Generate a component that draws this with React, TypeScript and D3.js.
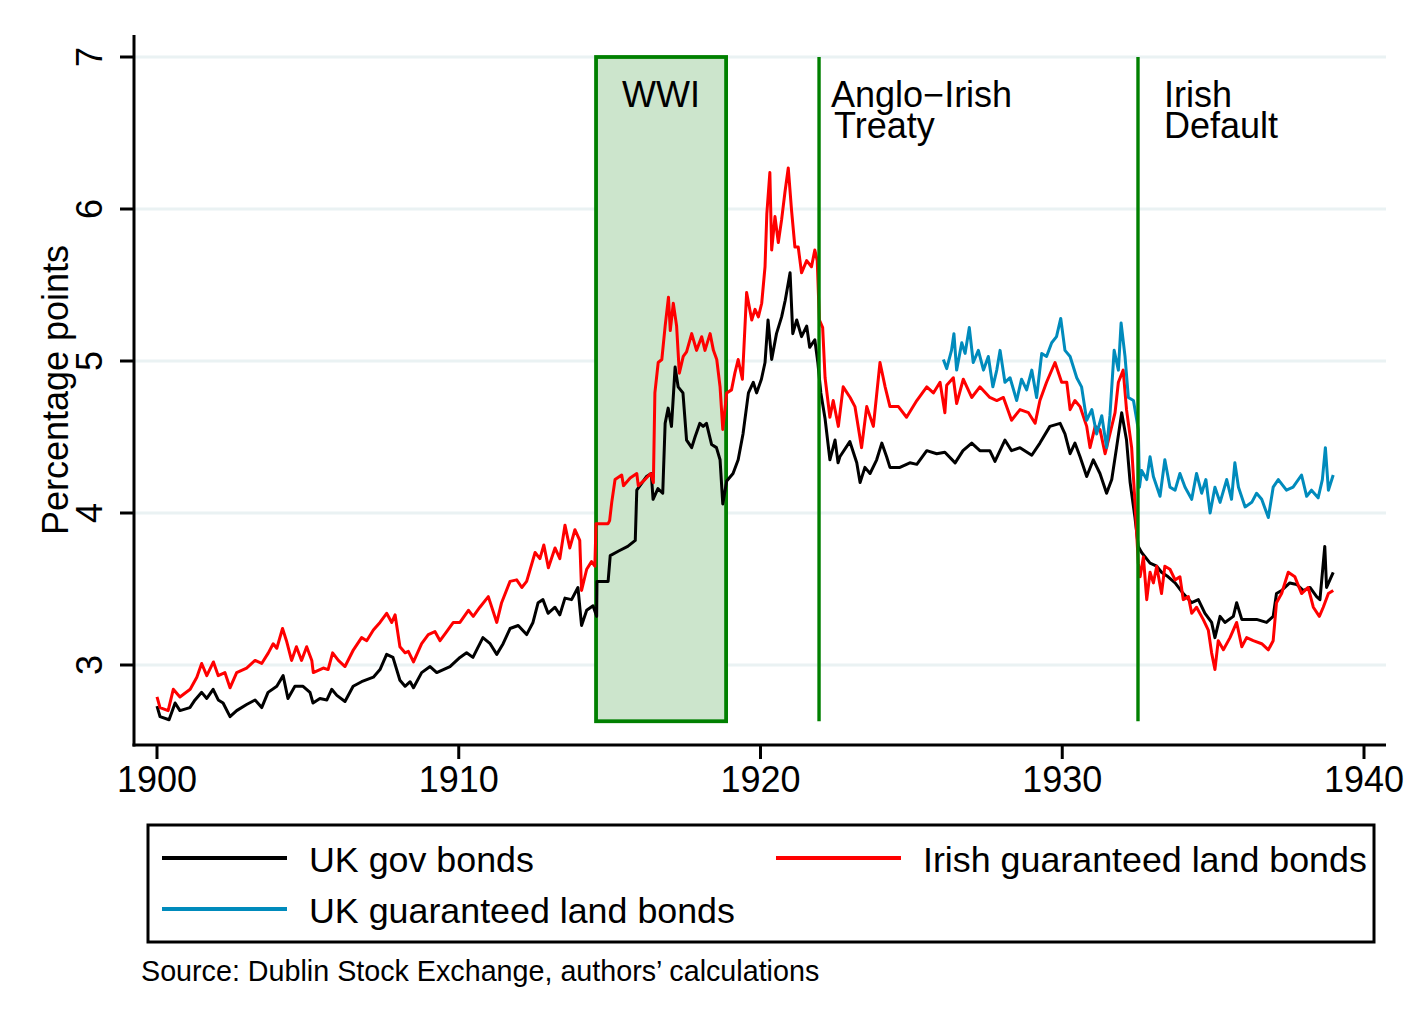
import React from 'react';
import * as d3 from 'd3';

// values: [year, percentage points]
const ukGov: [number, number][] = [
  [1900.0, 2.73], [1900.1, 2.66], [1900.4, 2.64], [1900.6, 2.75], [1900.76, 2.7], [1901.09, 2.72],
  [1901.26, 2.77], [1901.48, 2.82], [1901.65, 2.78], [1901.86, 2.84], [1902.03, 2.77], [1902.19, 2.75],
  [1902.42, 2.66], [1902.64, 2.7], [1902.97, 2.74], [1903.25, 2.77], [1903.47, 2.72], [1903.68, 2.82],
  [1903.97, 2.86], [1904.18, 2.93], [1904.34, 2.78], [1904.57, 2.86], [1904.84, 2.86], [1905.07, 2.82],
  [1905.17, 2.75], [1905.4, 2.78], [1905.63, 2.77], [1905.79, 2.84], [1905.96, 2.8], [1906.23, 2.76],
  [1906.5, 2.86], [1906.78, 2.89], [1907.17, 2.92], [1907.39, 2.97], [1907.61, 3.07], [1907.82, 3.05],
  [1908.05, 2.9], [1908.22, 2.86], [1908.39, 2.89], [1908.5, 2.85], [1908.77, 2.95], [1909.05, 2.99],
  [1909.27, 2.95], [1909.71, 2.99], [1910.04, 3.05], [1910.26, 3.08], [1910.47, 3.05], [1910.8, 3.18],
  [1911.04, 3.14], [1911.26, 3.07], [1911.47, 3.14], [1911.7, 3.24], [1911.97, 3.26], [1912.25, 3.2],
  [1912.46, 3.28], [1912.63, 3.41], [1912.79, 3.43], [1912.96, 3.34], [1913.19, 3.38], [1913.35, 3.33],
  [1913.52, 3.44], [1913.74, 3.43], [1913.95, 3.51], [1914.07, 3.26], [1914.24, 3.36], [1914.45, 3.39],
  [1914.57, 3.32], [1914.58, 3.55], [1914.95, 3.55], [1915.02, 3.72], [1915.3, 3.75], [1915.6, 3.78],
  [1915.85, 3.82], [1915.9, 4.15], [1916.22, 4.24], [1916.38, 4.26], [1916.44, 4.09], [1916.6, 4.16],
  [1916.76, 4.13], [1916.84, 4.59], [1916.94, 4.69], [1917.05, 4.57], [1917.17, 4.96], [1917.27, 4.83],
  [1917.43, 4.79], [1917.55, 4.48], [1917.72, 4.43], [1917.83, 4.5], [1917.99, 4.59], [1918.1, 4.57],
  [1918.21, 4.59], [1918.38, 4.45], [1918.54, 4.43], [1918.66, 4.35], [1918.75, 4.06], [1918.88, 4.21],
  [1919.09, 4.26], [1919.26, 4.35], [1919.42, 4.52], [1919.6, 4.79], [1919.76, 4.86], [1919.87, 4.79],
  [1920.03, 4.88], [1920.15, 4.99], [1920.25, 5.27], [1920.37, 5.01], [1920.53, 5.18], [1920.7, 5.29],
  [1920.82, 5.4], [1920.98, 5.58], [1921.07, 5.18], [1921.2, 5.27], [1921.36, 5.16], [1921.53, 5.23],
  [1921.63, 5.09], [1921.8, 5.14], [1921.9, 4.99], [1922.0, 4.79], [1922.14, 4.62], [1922.3, 4.35],
  [1922.47, 4.48], [1922.57, 4.33], [1922.63, 4.37], [1922.96, 4.47], [1923.19, 4.33], [1923.3, 4.2],
  [1923.46, 4.3], [1923.63, 4.26], [1923.85, 4.35], [1924.02, 4.46], [1924.18, 4.37], [1924.29, 4.3],
  [1924.62, 4.3], [1924.95, 4.33], [1925.18, 4.32], [1925.51, 4.41], [1925.84, 4.39], [1926.11, 4.4],
  [1926.45, 4.33], [1926.71, 4.41], [1927.0, 4.46], [1927.27, 4.41], [1927.6, 4.41], [1927.77, 4.34],
  [1928.1, 4.48], [1928.32, 4.41], [1928.6, 4.43], [1928.99, 4.38], [1929.26, 4.46], [1929.59, 4.57],
  [1929.93, 4.59], [1930.09, 4.52], [1930.26, 4.39], [1930.42, 4.46], [1930.59, 4.37], [1930.81, 4.24],
  [1931.03, 4.35], [1931.25, 4.26], [1931.47, 4.13], [1931.64, 4.22], [1931.8, 4.43], [1931.97, 4.66],
  [1932.13, 4.48], [1932.25, 4.2], [1932.41, 3.97], [1932.52, 3.78], [1932.63, 3.74], [1932.91, 3.67],
  [1933.13, 3.65], [1933.29, 3.61], [1933.51, 3.58], [1933.74, 3.54], [1934.01, 3.47], [1934.29, 3.41],
  [1934.51, 3.43], [1934.73, 3.34], [1934.95, 3.28], [1935.06, 3.18], [1935.23, 3.32], [1935.39, 3.28],
  [1935.67, 3.32], [1935.78, 3.41], [1935.95, 3.3], [1936.22, 3.3], [1936.44, 3.3], [1936.77, 3.28],
  [1936.99, 3.32], [1937.1, 3.47], [1937.27, 3.49], [1937.54, 3.54], [1937.77, 3.53], [1937.99, 3.49],
  [1938.21, 3.51], [1938.43, 3.45], [1938.54, 3.43], [1938.7, 3.78], [1938.76, 3.51], [1938.87, 3.56],
  [1938.98, 3.61],
];

const irishLand: [number, number][] = [
  [1900.0, 2.79], [1900.1, 2.72], [1900.37, 2.7], [1900.54, 2.84], [1900.76, 2.79], [1901.1, 2.84],
  [1901.32, 2.92], [1901.48, 3.01], [1901.65, 2.93], [1901.87, 3.02], [1902.03, 2.93], [1902.25, 2.95],
  [1902.42, 2.85], [1902.64, 2.95], [1902.97, 2.98], [1903.25, 3.03], [1903.47, 3.01], [1903.69, 3.08],
  [1903.85, 3.14], [1903.97, 3.11], [1904.16, 3.24], [1904.29, 3.16], [1904.46, 3.03], [1904.62, 3.12],
  [1904.79, 3.03], [1904.96, 3.12], [1905.13, 3.03], [1905.18, 2.95], [1905.51, 2.98], [1905.67, 2.97],
  [1905.82, 3.08], [1906.01, 3.03], [1906.23, 2.99], [1906.51, 3.1], [1906.78, 3.18], [1906.95, 3.16],
  [1907.17, 3.23], [1907.39, 3.28], [1907.61, 3.34], [1907.78, 3.28], [1907.89, 3.33], [1908.05, 3.12],
  [1908.22, 3.08], [1908.33, 3.09], [1908.5, 3.02], [1908.77, 3.14], [1908.99, 3.2], [1909.21, 3.22],
  [1909.38, 3.16], [1909.6, 3.22], [1909.82, 3.28], [1910.04, 3.28], [1910.32, 3.36], [1910.48, 3.32],
  [1910.7, 3.38], [1910.98, 3.45], [1911.26, 3.28], [1911.42, 3.41], [1911.7, 3.55], [1911.92, 3.56],
  [1912.09, 3.51], [1912.25, 3.55], [1912.53, 3.74], [1912.69, 3.7], [1912.82, 3.79], [1912.97, 3.64],
  [1913.19, 3.77], [1913.35, 3.7], [1913.52, 3.92], [1913.68, 3.77], [1913.85, 3.89], [1914.01, 3.82],
  [1914.07, 3.49], [1914.24, 3.63], [1914.4, 3.68], [1914.51, 3.65], [1914.55, 3.93], [1914.95, 3.93],
  [1915.0, 3.95], [1915.07, 4.07], [1915.18, 4.22], [1915.4, 4.25], [1915.46, 4.18], [1915.68, 4.23],
  [1915.9, 4.26], [1915.95, 4.18], [1916.17, 4.22], [1916.36, 4.26], [1916.45, 4.2], [1916.5, 4.79],
  [1916.61, 4.99], [1916.73, 5.01], [1916.84, 5.23], [1916.95, 5.42], [1917.01, 5.2], [1917.11, 5.38],
  [1917.22, 5.23], [1917.31, 4.92], [1917.44, 5.03], [1917.55, 5.06], [1917.72, 5.18], [1917.88, 5.07],
  [1918.05, 5.16], [1918.16, 5.07], [1918.33, 5.18], [1918.44, 5.07], [1918.55, 5.01], [1918.66, 4.83],
  [1918.75, 4.55], [1918.88, 4.79], [1919.04, 4.81], [1919.15, 4.92], [1919.26, 5.01], [1919.4, 4.88],
  [1919.54, 5.45], [1919.71, 5.27], [1919.82, 5.34], [1919.93, 5.29], [1920.04, 5.38], [1920.15, 5.62],
  [1920.21, 5.97], [1920.31, 6.24], [1920.37, 5.73], [1920.48, 5.95], [1920.59, 5.78], [1920.7, 5.93],
  [1920.81, 6.11], [1920.92, 6.27], [1921.03, 5.99], [1921.14, 5.75], [1921.25, 5.75], [1921.36, 5.58],
  [1921.53, 5.66], [1921.69, 5.62], [1921.8, 5.73], [1921.88, 5.66], [1921.95, 5.27], [1922.06, 5.22],
  [1922.14, 4.89], [1922.3, 4.63], [1922.41, 4.74], [1922.58, 4.57], [1922.74, 4.83], [1922.97, 4.76],
  [1923.13, 4.7], [1923.35, 4.43], [1923.52, 4.7], [1923.74, 4.57], [1923.96, 4.99], [1924.13, 4.83],
  [1924.29, 4.7], [1924.57, 4.7], [1924.84, 4.63], [1925.18, 4.74], [1925.51, 4.83], [1925.73, 4.79],
  [1925.95, 4.86], [1926.11, 4.66], [1926.17, 4.84], [1926.39, 4.89], [1926.5, 4.72], [1926.72, 4.88],
  [1927.0, 4.76], [1927.27, 4.83], [1927.6, 4.76], [1927.83, 4.74], [1928.05, 4.76], [1928.32, 4.61],
  [1928.6, 4.68], [1928.88, 4.66], [1929.1, 4.59], [1929.26, 4.74], [1929.48, 4.86], [1929.76, 4.99],
  [1929.98, 4.86], [1930.15, 4.86], [1930.26, 4.68], [1930.42, 4.74], [1930.59, 4.7], [1930.81, 4.57],
  [1930.92, 4.43], [1931.09, 4.57], [1931.25, 4.55], [1931.42, 4.39], [1931.58, 4.52], [1931.75, 4.66],
  [1931.86, 4.86], [1932.02, 4.94], [1932.13, 4.68], [1932.3, 4.43], [1932.41, 4.07], [1932.52, 3.67],
  [1932.58, 3.58], [1932.69, 3.71], [1932.8, 3.43], [1932.91, 3.61], [1933.02, 3.54], [1933.13, 3.65],
  [1933.29, 3.47], [1933.4, 3.65], [1933.57, 3.63], [1933.74, 3.56], [1933.9, 3.58], [1934.01, 3.43],
  [1934.18, 3.45], [1934.29, 3.34], [1934.45, 3.38], [1934.67, 3.3], [1934.84, 3.23], [1934.95, 3.08],
  [1935.06, 2.97], [1935.17, 3.16], [1935.34, 3.1], [1935.56, 3.18], [1935.78, 3.28], [1935.95, 3.12],
  [1936.11, 3.18], [1936.33, 3.16], [1936.61, 3.14], [1936.83, 3.1], [1936.99, 3.16], [1937.1, 3.41],
  [1937.27, 3.47], [1937.49, 3.61], [1937.71, 3.58], [1937.93, 3.47], [1938.15, 3.51], [1938.32, 3.38],
  [1938.52, 3.32], [1938.65, 3.38], [1938.82, 3.47], [1938.98, 3.49],
];

const ukLand: [number, number][] = [
  [1926.06, 5.01], [1926.17, 4.95], [1926.33, 5.07], [1926.41, 5.18], [1926.5, 4.94], [1926.67, 5.12],
  [1926.78, 5.05], [1926.92, 5.22], [1927.05, 4.99], [1927.22, 5.07], [1927.39, 4.94], [1927.55, 5.03],
  [1927.7, 4.83], [1927.83, 4.94], [1927.94, 5.07], [1928.1, 4.86], [1928.27, 4.89], [1928.49, 4.74],
  [1928.65, 4.88], [1928.82, 4.81], [1928.99, 4.94], [1929.15, 4.76], [1929.32, 5.05], [1929.48, 5.03],
  [1929.65, 5.12], [1929.81, 5.16], [1929.95, 5.28], [1930.09, 5.07], [1930.26, 5.03], [1930.48, 4.89],
  [1930.64, 4.83], [1930.81, 4.61], [1930.98, 4.68], [1931.14, 4.52], [1931.31, 4.64], [1931.47, 4.43],
  [1931.58, 4.64], [1931.72, 5.07], [1931.86, 4.94], [1931.95, 5.25], [1932.08, 5.03], [1932.19, 4.76],
  [1932.36, 4.74], [1932.47, 4.61], [1932.52, 4.55], [1932.56, 4.17], [1932.63, 4.28], [1932.8, 4.22],
  [1932.91, 4.37], [1933.02, 4.24], [1933.24, 4.11], [1933.4, 4.35], [1933.57, 4.17], [1933.74, 4.15],
  [1933.9, 4.26], [1934.07, 4.17], [1934.29, 4.09], [1934.45, 4.26], [1934.62, 4.13], [1934.76, 4.22],
  [1934.9, 4.0], [1935.06, 4.17], [1935.23, 4.07], [1935.45, 4.22], [1935.61, 4.09], [1935.72, 4.33],
  [1935.84, 4.17], [1936.06, 4.04], [1936.28, 4.07], [1936.44, 4.13], [1936.61, 4.09], [1936.83, 3.97],
  [1936.99, 4.17], [1937.16, 4.22], [1937.43, 4.15], [1937.65, 4.17], [1937.93, 4.25], [1938.1, 4.11],
  [1938.26, 4.15], [1938.48, 4.1], [1938.62, 4.22], [1938.72, 4.43], [1938.82, 4.15], [1938.98, 4.25],
];

const xTicks = [1900, 1910, 1920, 1930, 1940];
const yTicks = [3, 4, 5, 6, 7];
const wwi = [1914.55, 1918.86];
const events = [
  { year: 1921.94, lines: ['Anglo\u2212Irish', 'Treaty'] },
  { year: 1932.51, lines: ['Irish', 'Default'] },
];
const series = [
  { name: 'UK gov bonds', color: '#000000', data: ukGov },
  { name: 'Irish guaranteed land bonds', color: '#ff0000', data: irishLand },
  { name: 'UK guaranteed land bonds', color: '#008bbc', data: ukLand },
];

const W = 1420;
const H = 1019;
const plot = { left: 134, right: 1386, top: 35, bottom: 745 };
const font = '"Liberation Sans", Arial, Helvetica, sans-serif';
const green = '#008000';

export default function App() {
  const x = d3.scaleLinear().domain([1900, 1940]).range([157, 1364]);
  const y = d3.scaleLinear().domain([3, 7]).range([665, 57]);
  const shadeBottom = y(2.63);

  const line = d3.line<[number, number]>()
    .x(d => x(d[0]))
    .y(d => y(d[1]));

  return (
    <svg width={W} height={H} style={{ position: 'absolute', left: 0, top: 0, background: '#fff' }}
      fontFamily={font}>
      <rect width={W} height={H} fill="#fff" />

      {/* grid */}
      {yTicks.map(t => (
        <line key={t} x1={plot.left + 1} x2={plot.right} y1={y(t)} y2={y(t)}
          stroke="#eaf2f3" strokeWidth={3} />
      ))}

      {/* WWI shading */}
      <rect x={x(wwi[0])} y={y(7)} width={x(wwi[1]) - x(wwi[0])} height={shadeBottom - y(7)}
        fill="#cce5cc" stroke={green} strokeWidth={3.8} />

      {/* data */}
      {series.map(s => (
        <path key={s.name} d={line(s.data) ?? ''} fill="none" stroke={s.color}
          strokeWidth={3} strokeLinejoin="round" />
      ))}

      {/* event lines */}
      {events.map(e => (
        <line key={e.year} x1={x(e.year)} x2={x(e.year)} y1={y(7)} y2={shadeBottom}
          stroke={green} strokeWidth={3.4} />
      ))}

      {/* annotations */}
      <text x={(x(wwi[0]) + x(wwi[1])) / 2} y={107} fontSize={36} textAnchor="middle">WWI</text>
      <text x={x(events[0].year) + 12} y={107} fontSize={36}>{events[0].lines[0]}</text>
      <text x={x(events[0].year) + 15} y={138} fontSize={36}>{events[0].lines[1]}</text>
      <text x={x(events[1].year) + 26} y={107} fontSize={36}>{events[1].lines[0]}</text>
      <text x={x(events[1].year) + 26} y={138} fontSize={36}>{events[1].lines[1]}</text>

      {/* axes */}
      <line x1={plot.left} x2={plot.left} y1={plot.top} y2={plot.bottom + 1.5} stroke="#000" strokeWidth={3} />
      <line x1={plot.left - 1.5} x2={plot.right} y1={plot.bottom} y2={plot.bottom} stroke="#000" strokeWidth={3} />
      {yTicks.map(t => (
        <g key={t}>
          <line x1={plot.left - 14} x2={plot.left} y1={y(t)} y2={y(t)} stroke="#000" strokeWidth={3} />
          <text transform={`translate(102,${y(t)}) rotate(-90)`} fontSize={36} textAnchor="middle">{t}</text>
        </g>
      ))}
      {xTicks.map(t => (
        <g key={t}>
          <line x1={x(t)} x2={x(t)} y1={plot.bottom} y2={plot.bottom + 14} stroke="#000" strokeWidth={3} />
          <text x={x(t)} y={792} fontSize={36} textAnchor="middle">{t}</text>
        </g>
      ))}
      <text transform={`translate(68,${(plot.top + plot.bottom) / 2}) rotate(-90)`} fontSize={36}
        textAnchor="middle">Percentage points</text>

      {/* legend */}
      <rect x={148} y={825} width={1226} height={117} fill="none" stroke="#000" strokeWidth={3} />
      {[
        { s: series[0], lx: 162, ly: 858 },
        { s: series[1], lx: 776, ly: 858 },
        { s: series[2], lx: 162, ly: 909 },
      ].map(({ s, lx, ly }) => (
        <g key={s.name}>
          <line x1={lx} x2={lx + 125} y1={ly} y2={ly} stroke={s.color} strokeWidth={4} />
          <text x={lx + 147} y={ly + 14} fontSize={35.8}>{s.name}</text>
        </g>
      ))}

      <text x={141} y={981} fontSize={28.7}>Source: Dublin Stock Exchange, authors’ calculations</text>
    </svg>
  );
}
